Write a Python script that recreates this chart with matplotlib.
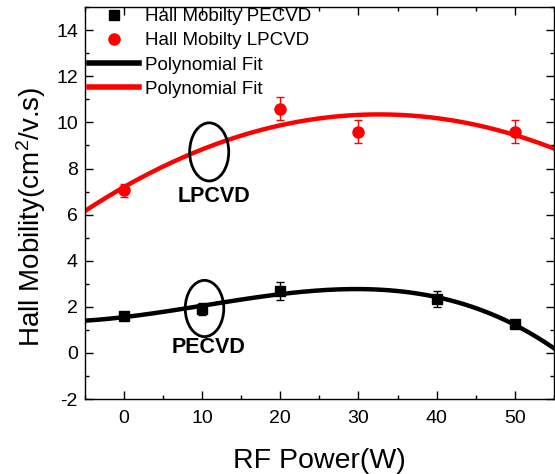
import numpy as np
import matplotlib
matplotlib.use("Agg")
import matplotlib.pyplot as plt
from matplotlib.patches import Ellipse
from matplotlib.ticker import MultipleLocator

plt.rcParams['font.family'] = ['Liberation Sans', 'DejaVu Sans']
plt.rcParams['mathtext.fontset'] = 'custom'
plt.rcParams['mathtext.rm'] = 'Liberation Sans'
plt.rcParams['mathtext.it'] = 'Liberation Sans:italic'
plt.rcParams['mathtext.bf'] = 'Liberation Sans:bold'
plt.rcParams['axes.unicode_minus'] = False

# Measurements
pecvd_power = [0, 10, 20, 40, 50]
pecvd_mobility = [1.6, 1.9, 2.7, 2.35, 1.25]
pecvd_err = [0.15, 0.25, 0.4, 0.35, 0.1]

lpcvd_power = [0, 20, 30, 50]
lpcvd_mobility = [7.05, 10.6, 9.6, 9.6]
lpcvd_err = [0.3, 0.5, 0.5, 0.5]

# Polynomial fits
pecvd_coef = np.polyfit(pecvd_power, pecvd_mobility, 3)
lpcvd_coef = np.polyfit(lpcvd_power, lpcvd_mobility, 2)
xfit = np.linspace(-5, 55, 300)

fig = plt.figure(figsize=(5.55, 4.74), dpi=100)
ax = fig.add_axes([0.153, 0.158, 0.845, 0.827])

ax.plot(xfit, np.polyval(pecvd_coef, xfit), color='black', lw=3.2, zorder=2)
ax.plot(xfit, np.polyval(lpcvd_coef, xfit), color='red', lw=3.2, zorder=2)

ax.errorbar(pecvd_power, pecvd_mobility, yerr=pecvd_err, fmt='s', color='black',
            ms=7, capsize=3, elinewidth=1, capthick=1, zorder=3)
ax.errorbar(lpcvd_power, lpcvd_mobility, yerr=lpcvd_err, fmt='o', color='red',
            ms=8, capsize=3, elinewidth=1, capthick=1, zorder=3)

# Legend handles
h1, = ax.plot([], [], 's', color='black', ms=7, label='Hall Mobilty PECVD')
h2, = ax.plot([], [], 'o', color='red', ms=8, label='Hall Mobilty LPCVD')
h3, = ax.plot([], [], '-', color='black', lw=4, label='Polynomial Fit')
h4, = ax.plot([], [], '-', color='red', lw=4, label='Polynomial Fit')
ax.legend(handles=[h1, h2, h3, h4], loc='upper left', frameon=False,
          fontsize=13.5, handlelength=2.7, handletextpad=0.3,
          labelspacing=0.38, borderaxespad=0.0,
          bbox_to_anchor=(-0.008, 1.017))

# Annotations
ax.add_patch(Ellipse((10.9, 8.72), 5.0, 2.52, fill=False, ec='black', lw=2, zorder=4))
ax.add_patch(Ellipse((10.3, 1.93), 4.93, 2.44, fill=False, ec='black', lw=2, zorder=4))
ax.text(11.5, 6.78, 'LPCVD', fontsize=15.5, fontweight='bold', ha='center', va='center')
ax.text(10.8, 0.23, 'PECVD', fontsize=15.5, fontweight='bold', ha='center', va='center')

ax.set_xlim(-5, 55)
ax.set_ylim(-2, 15)
ax.xaxis.set_major_locator(MultipleLocator(10))
ax.xaxis.set_minor_locator(MultipleLocator(5))
ax.yaxis.set_major_locator(MultipleLocator(2))
ax.yaxis.set_minor_locator(MultipleLocator(1))
ax.tick_params(which='both', direction='in', top=True, right=True, labelsize=14, width=1)
ax.tick_params(which='major', length=6)
ax.tick_params(axis='x', which='major', pad=8)
ax.tick_params(axis='y', which='major', pad=5)
ax.tick_params(which='minor', length=3)
for s in ax.spines.values():
    s.set_linewidth(1)

ax.set_xlabel('RF Power(W)', fontsize=20.5, labelpad=15)
ax.set_ylabel('Hall Mobility(cm$^2$/v.s)', fontsize=20, labelpad=6)
ax.yaxis.label.set_y(0.464)

fig.savefig('out.png', dpi=100)
